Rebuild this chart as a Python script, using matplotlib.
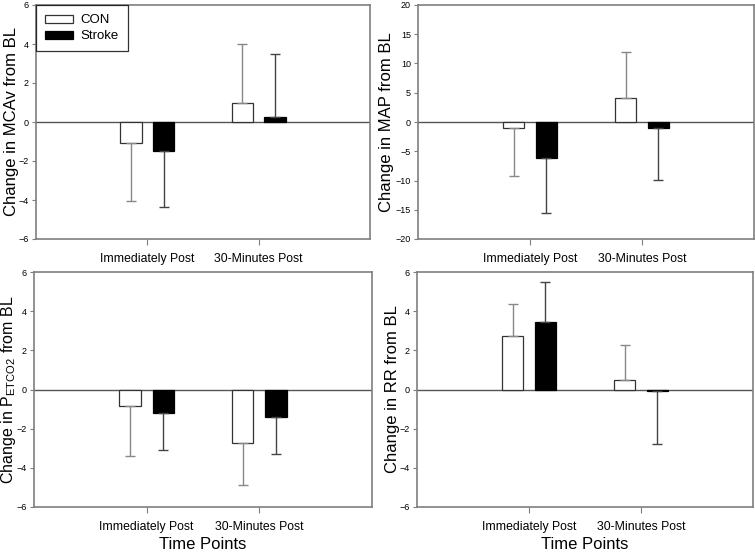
import numpy as np
import matplotlib
matplotlib.use("Agg")
import matplotlib.pyplot as plt

plt.rcParams['font.family'] = ['Liberation Sans', 'DejaVu Sans']
plt.rcParams['mathtext.fontset'] = 'custom'
plt.rcParams['mathtext.rm'] = 'Liberation Sans'

# Data (mean change and one-sided SD)
time_points = ["Immediately Post", "30-Minutes Post"]
groups = ["CON", "Stroke"]

mcav_con = [-1.07, 0.97]
mcav_con_sd = [2.98, 3.03]
mcav_stroke = [-1.50, 0.25]
mcav_stroke_sd = [2.85, 3.25]

map_con = [-1.0, 4.03]
map_con_sd = [8.2, 7.9]
map_stroke = [-6.15, -1.03]
map_stroke_sd = [9.4, 8.8]

petco2_con = [-0.83, -2.72]
petco2_con_sd = [2.55, 2.18]
petco2_stroke = [-1.21, -1.38]
petco2_stroke_sd = [1.90, 1.89]

rr_con = [2.74, 0.51]
rr_con_sd = [1.63, 1.77]
rr_stroke = [3.44, -0.08]
rr_stroke_sd = [2.06, 2.69]

panels = [
    ("Change in MCAv from BL", (-6, 6), [-6, -4, -2, 0, 2, 4, 6],
     mcav_con, mcav_con_sd, mcav_stroke, mcav_stroke_sd),
    ("Change in MAP from BL", (-20, 20), [-20, -15, -10, -5, 0, 5, 10, 15, 20],
     map_con, map_con_sd, map_stroke, map_stroke_sd),
    (r"Change in P$_{\mathregular{ETCO}}$$_{\mathregular{2}}$ from BL", (-6, 6), [-6, -4, -2, 0, 2, 4, 6],
     petco2_con, petco2_con_sd, petco2_stroke, petco2_stroke_sd),
    ("Change in RR from BL", (-6, 6), [-6, -4, -2, 0, 2, 4, 6],
     rr_con, rr_con_sd, rr_stroke, rr_stroke_sd),
]

W, H = 755, 552
fig = plt.figure(figsize=(W / 100, H / 100), dpi=100)

# axes boxes in pixels: left, top, right, bottom
boxes = [(36, 5, 370, 239), (418, 5, 754, 239),
         (34, 272, 372, 507), (417, 272, 753, 507)]
# right edge of the y label, in pixels
label_x = [19, 394, 18, 400]
label_size = [12, 12, 11.5, 12]

x = np.arange(len(time_points))
off = 0.147
bw = 0.19
frame = "#7f7f7f"

for i, (ylab, ylim, yt, c, csd, s, ssd) in enumerate(panels):
    l, t, r, b = boxes[i]
    ax = fig.add_axes([l / W, 1 - b / H, (r - l) / W, (b - t) / H])
    # one-sided error bars (away from zero)
    c_err = [[sd if v < 0 else 0 for v, sd in zip(c, csd)],
             [sd if v >= 0 else 0 for v, sd in zip(c, csd)]]
    s_err = [[sd if v < 0 else 0 for v, sd in zip(s, ssd)],
             [sd if v >= 0 else 0 for v, sd in zip(s, ssd)]]
    ax.bar(x - off, c, bw, color="white", edgecolor="#333333", linewidth=0.9,
           yerr=c_err, error_kw=dict(ecolor="#888888", elinewidth=1.0, capsize=3.5, capthick=1.0),
           label=groups[0], zorder=3)
    ax.bar(x + off, s, bw, color="black", edgecolor="black", linewidth=0.9,
           yerr=s_err, error_kw=dict(ecolor="#444444", elinewidth=1.0, capsize=3.5, capthick=1.0),
           label=groups[1], zorder=3)
    ax.axhline(0, color="#555555", linewidth=1.0, zorder=2)
    ax.set_xlim(-1, 2)
    ax.set_ylim(*ylim)
    ax.set_yticks(yt)
    ax.set_xticks(x)
    ax.set_xticklabels(time_points, fontsize=8.8)
    ax.tick_params(axis="y", labelsize=6.5, length=3, color=frame, pad=2)
    ax.tick_params(axis="x", length=4, color=frame, pad=6)
    for sp in ax.spines.values():
        sp.set_color(frame)
        sp.set_linewidth(1.2)
    ax.set_ylabel(ylab, fontsize=label_size[i])
    ax.yaxis.set_label_coords((label_x[i] - l) / (r - l), 0.5)
    if i >= 2:
        ax.set_xlabel("Time Points", fontsize=12)
        ax.xaxis.set_label_coords(0.5, -(537 - b) / (b - t))
    if i == 0:
        leg = ax.legend(loc="upper left", fontsize=9.5, frameon=True, fancybox=False,
                        borderaxespad=0, handlelength=2.1, handleheight=0.55,
                        borderpad=0.7, labelspacing=0.3, handletextpad=0.55)
        leg.get_frame().set_edgecolor("black")
        leg.get_frame().set_linewidth(0.9)

fig.savefig("out.png", dpi=100)
